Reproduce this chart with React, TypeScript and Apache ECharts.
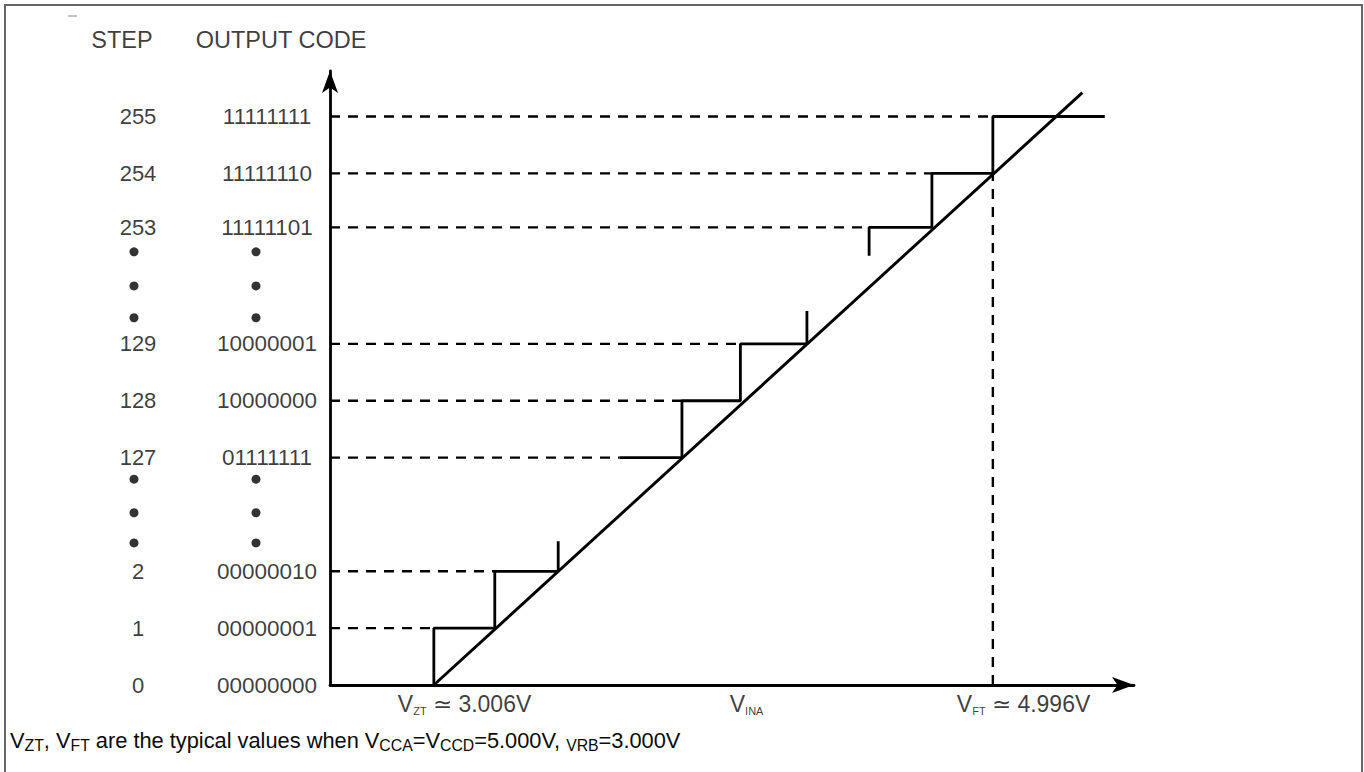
import React, { useEffect, useRef } from 'react';
import * as echarts from 'echarts';

// ---- data ----
const stepLabels = ['0', '1', '2', '127', '128', '129', '253', '254', '255'];
const codeLabels = ['00000000', '00000001', '00000010', '01111111', '10000000', '10000001', '11111101', '11111110', '11111111'];
// display row of each code on the (broken) vertical axis
const codeRows = [0, 1, 2, 4, 5, 6, 8.05, 9, 10];
// analog input (display units) where each code's flat step begins / ends
const codeStartX = [0, 1.67, 2.65, 4.66, 5.66, 6.6, 8.67, 9.68, 10.66];
const codeEndX = [1.67, 2.65, 3.67, 5.66, 6.6, 7.67, 9.68, 10.66, 12.46];
// staircase groups: codes drawn, start of leading riser, end of trailing riser
const stairGroups = [
  { codes: [1, 2], lead: 0 as number | null, tail: 2.53 as number | null },
  { codes: [3, 4, 5], lead: null, tail: 6.58 },
  { codes: [6, 7, 8], lead: 7.55, tail: null },
];
// ideal transfer line
const idealX = [1.67, 12.1];
const idealY = [0, 10.42];
// ellipsis dots (rows)
const ellipsisRows = [7.62, 7.02, 6.46, 3.62, 3.03, 2.5];
// label column positions in the left panel
const stepColX = 138;
const codeColX = 267;
const stepDotX = 134;
const codeDotX = 256;
const headerRow = 11.35;
const headers = [
  { text: 'STEP', x: 122 },
  { text: 'OUTPUT CODE', x: 281 },
];
// x-axis annotations
const xNotes = [
  { text: '{v|V}{s|ZT}{v| ≃ 3.006V}', x: codeStartX[1], align: 'left', off: -36 },
  { text: '{v|V}{s|INA}', x: 6.7, align: 'center', off: 0 },
  { text: '{v|V}{s|FT}{v| ≃ 4.996V}', x: codeStartX[8], align: 'left', off: -36 },
];
const noteRow = -0.33;

const FONT = '"Liberation Sans", Arial, Helvetica, sans-serif';
const INK = '#000';
const TEXT = '#0a0a0a';

function rich(main: number, sub: number, lh: number) {
  return {
    v: { fontSize: main, fontFamily: FONT, fontWeight: 'normal', color: TEXT, lineHeight: lh },
    s: { fontSize: sub, fontFamily: FONT, fontWeight: 'normal', color: TEXT, lineHeight: sub, verticalAlign: 'bottom' },
  };
}

export default function App() {
  const ref = useRef<HTMLDivElement>(null);
  useEffect(() => {
    const chart = echarts.init(ref.current!, null, { renderer: 'svg' });

    const stairSeries = stairGroups.map((g) => {
      const pts: number[][] = [];
      const first = g.codes[0];
      if (g.lead !== null) pts.push([codeStartX[first], g.lead]);
      g.codes.forEach((c) => {
        pts.push([codeStartX[c], codeRows[c]]);
        pts.push([codeEndX[c], codeRows[c]]);
      });
      const last = g.codes[g.codes.length - 1];
      if (g.tail !== null) pts.push([codeEndX[last], g.tail]);
      return {
        type: 'line', xAxisIndex: 0, yAxisIndex: 0, data: pts, symbol: 'none',
        lineStyle: { color: INK, width: 2.8 }, z: 3,
      };
    });

    const guideSeries: any[] = [];
    for (let i = 1; i < codeRows.length; i++) {
      guideSeries.push({
        type: 'line', xAxisIndex: 0, yAxisIndex: 0, symbol: 'none',
        data: [[0, codeRows[i]], [codeStartX[i], codeRows[i]]],
        lineStyle: { color: INK, width: 2.4, type: [10, 8] }, z: 2,
      });
    }
    guideSeries.push({
      type: 'line', xAxisIndex: 0, yAxisIndex: 0, symbol: 'none',
      data: [[codeStartX[8], 0], [codeStartX[8], codeRows[7]]],
      lineStyle: { color: INK, width: 2.4, type: [10, 8] }, z: 2,
    });

    const axisLine = {
      show: true, onZero: true, symbol: ['none', 'arrow'], symbolSize: [12, 22],
      lineStyle: { color: INK, width: 2.8 },
    };

    const labelStyle = (size: number) => ({
      show: true, position: 'inside', formatter: (p: any) => p.value[2],
      color: TEXT, fontSize: size, fontFamily: FONT,
    });

    const option: any = {
      animation: false,
      backgroundColor: '#fff',
      grid: [
        { left: 330, top: 71, width: 804, height: 614 },
        { left: 0, top: 0, width: 330, height: 685 },
      ],
      xAxis: [
        { gridIndex: 0, type: 'value', min: 0, max: 12.93, axisLine, axisTick: { show: false }, axisLabel: { show: false }, splitLine: { show: false } },
        { gridIndex: 1, type: 'value', min: 0, max: 330, show: false },
      ],
      yAxis: [
        { gridIndex: 0, type: 'value', min: 0, max: 10.8, axisLine, axisTick: { show: false }, axisLabel: { show: false }, splitLine: { show: false } },
        { gridIndex: 1, type: 'value', min: 0, max: 12.05, show: false },
      ],
      title: {
        text: '{v|V}{s|ZT}{v|, V}{s|FT}{v| are the typical values when V}{s|CCA}{v|=V}{s|CCD}{v|=5.000V, }{s|VRB}{v|=3.000V}',
        left: 10, top: 727, padding: 0,
        textStyle: { fontWeight: 'normal', rich: rich(21.8, 15.8, 26) },
      },
      graphic: [
        { type: 'rect', shape: { x: 5, y: 5, width: 1357, height: 800 }, style: { fill: 'none', stroke: '#666', lineWidth: 2 }, silent: true },
        { type: 'line', shape: { x1: 68, y1: 16, x2: 77, y2: 16 }, style: { stroke: '#888', lineWidth: 1 }, silent: true },
      ],
      series: [
        ...guideSeries,
        ...stairSeries,
        {
          type: 'line', xAxisIndex: 0, yAxisIndex: 0, symbol: 'none',
          data: idealX.map((x, i) => [x, idealY[i]]),
          lineStyle: { color: INK, width: 2.9 }, z: 4,
        },
        {
          type: 'scatter', xAxisIndex: 1, yAxisIndex: 1, symbolSize: 1,
          itemStyle: { color: 'rgba(0,0,0,0)' },
          data: codeRows.map((r, i) => [stepColX, r, stepLabels[i]]),
          label: labelStyle(22),
        },
        {
          type: 'scatter', xAxisIndex: 1, yAxisIndex: 1, symbolSize: 1,
          itemStyle: { color: 'rgba(0,0,0,0)' },
          data: codeRows.map((r, i) => [codeColX, r, codeLabels[i]]),
          label: labelStyle(22.5),
        },
        {
          type: 'scatter', xAxisIndex: 1, yAxisIndex: 1, symbolSize: 1,
          itemStyle: { color: 'rgba(0,0,0,0)' },
          data: headers.map((h) => [h.x, headerRow, h.text]),
          label: labelStyle(23.5),
        },
        {
          type: 'scatter', xAxisIndex: 1, yAxisIndex: 1, symbol: 'circle', symbolSize: 9,
          itemStyle: { color: INK },
          data: [...ellipsisRows.map((r) => [stepDotX, r]), ...ellipsisRows.map((r) => [codeDotX, r])],
        },
        {
          type: 'scatter', xAxisIndex: 0, yAxisIndex: 0, symbolSize: 1, clip: false,
          itemStyle: { color: 'rgba(0,0,0,0)' },
          data: xNotes.map((n) => ({
            value: [n.x, noteRow],
            label: { formatter: n.text, align: n.align, offset: [n.off, 0] },
          })),
          label: { show: true, position: 'inside', rich: rich(23, 11, 26) },
        },
      ],
    };
    chart.setOption(option);
    return () => chart.dispose();
  }, []);
  return <div ref={ref} style={{ position: 'absolute', left: 0, top: 0, width: 1364, height: 772, background: '#fff' }} />;
}
